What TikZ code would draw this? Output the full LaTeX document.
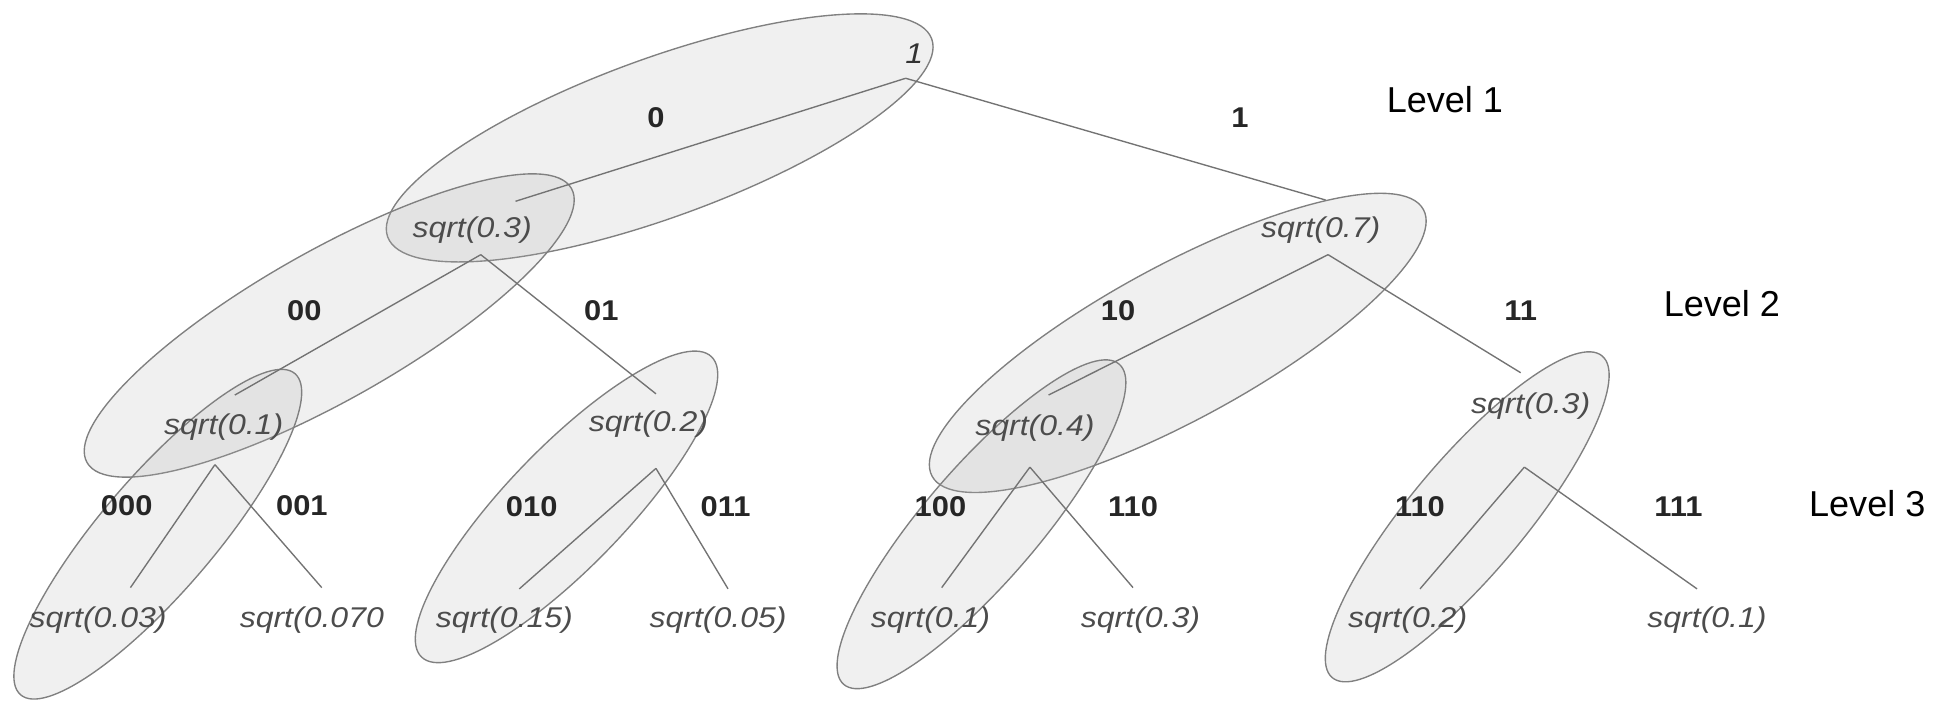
\documentclass[tikz,border=0pt]{standalone}
\usepackage{fontspec}
\setmainfont{Liberation Sans}
\newfontfamily\valfont[FakeStretch=1.12]{Liberation Sans}
\newfontfamily\bitfont[FakeStretch=1.08]{Liberation Sans}
\definecolor{edgegray}{gray}{0.45}
\definecolor{rimgray}{gray}{0.50}
\definecolor{valgray}{gray}{0.30}
\definecolor{blobgray}{gray}{0.70}

\tikzset{
  blob/.style={draw=rimgray, line width=1.1pt, fill=blobgray, fill opacity=0.2},
  link/.style={draw=edgegray, line width=1.1pt},
  val/.style={inner sep=0pt, text=valgray, font=\valfont\itshape\fontsize{23}{27}\selectfont},
  bits/.style={inner sep=0pt, text=black!85, font=\bitfont\bfseries\fontsize{23}{27}\selectfont},
  levlabel/.style={inner sep=0pt, text=black, font=\fontsize{29}{33}\selectfont}
}

% one tilted ellipse: centre x, centre y, half axes, tilt (degrees, counter-clockwise)
\newcommand{\blobat}[5]{%
  \draw[blob, rotate around={#5:(#1,#2)}] (#1,#2) ellipse [x radius=#3, y radius=#4];}

\begin{document}
\begin{tikzpicture}[x=1pt, y=-1pt]
\useasboundingbox (0,0) rectangle (1568,564);

% grouping ellipses
\blobat{531}{111}{233}{64}{20}
\blobat{265}{262}{224}{60}{29.5}
\blobat{127}{430}{170}{46}{49.5}
\blobat{456}{408}{168}{48}{46}
\blobat{948}{276}{225}{62}{28.5}
\blobat{790}{422}{170}{46}{49.3}
\blobat{1181}{416}{169}{46}{50}

% amplitudes
\node[val, text=black!80] (r) at (736,43) {1};
\node[val] (n0)   at (380,185) {sqrt(0.3)};
\node[val] (n1)   at (1063,185) {sqrt(0.7)};
\node[val] (n00)  at (180,344) {sqrt(0.1)};
\node[val] (n01)  at (522,341) {sqrt(0.2)};
\node[val] (n10)  at (833,345) {sqrt(0.4)};
\node[val] (n11)  at (1232,327) {sqrt(0.3)};
\node[val] (n000) at (79,499)  {sqrt(0.03)};
\node[val] (n001) at (251,499) {sqrt(0.070};
\node[val] (n010) at (406,499) {sqrt(0.15)};
\node[val] (n011) at (578,499) {sqrt(0.05)};
\node[val] (n100) at (749,499) {sqrt(0.1)};
\node[val] (n101) at (918,499) {sqrt(0.3)};
\node[val] (n110) at (1133,499) {sqrt(0.2)};
\node[val] (n111) at (1374,499) {sqrt(0.1)};

% branches
\draw[link] ([shift={(-7,20)}]r.center) -- ([shift={(35,-23)}]n0.center);
\draw[link] ([shift={(-7,20)}]r.center) -- ([shift={(4,-24)}]n1.center);
\draw[link] ([shift={(7,20)}]n0.center) -- ([shift={(9,-26)}]n00.center);
\draw[link] ([shift={(7,20)}]n0.center) -- ([shift={(6,-24)}]n01.center);
\draw[link] ([shift={(6,20)}]n1.center) -- ([shift={(11,-27)}]n10.center);
\draw[link] ([shift={(6,20)}]n1.center) -- ([shift={(-8,-27)}]n11.center);
\draw[link] ([shift={(-7,30)}]n00.center) -- ([shift={(26,-26)}]n000.center);
\draw[link] ([shift={(-7,30)}]n00.center) -- ([shift={(8,-26)}]n001.center);
\draw[link] ([shift={(6,36)}]n01.center) -- ([shift={(12,-25)}]n010.center);
\draw[link] ([shift={(6,36)}]n01.center) -- ([shift={(8,-25)}]n011.center);
\draw[link] ([shift={(-4,31)}]n10.center) -- ([shift={(9,-26)}]n100.center);
\draw[link] ([shift={(-4,31)}]n10.center) -- ([shift={(-6,-26)}]n101.center);
\draw[link] ([shift={(-5,49)}]n11.center) -- ([shift={(10,-25)}]n110.center);
\draw[link] ([shift={(-5,49)}]n11.center) -- ([shift={(-8,-25)}]n111.center);

% branch bit strings
\node[bits] (b0)   at (528,95)  {0};
\node[bits] (b1)   at (998,95)  {1};
\node[bits] (b00)  at (245,250) {00};
\node[bits] (b01)  at (484,250) {01};
\node[bits] (b10)  at (900,250) {10};
\node[bits] (b11)  at (1224,250) {11};
\node[bits] (b000) at (102,407) {000};
\node[bits] (b001) at (243,407) {001};
\node[bits] (b010) at (428,408) {010};
\node[bits] (b011) at (584,408) {011};
\node[bits] (b100) at (757,408) {100};
\node[bits] (b101) at (912,408) {110};
\node[bits] (b110) at (1143,408) {110};
\node[bits] (b111) at (1351,408) {111};

% level captions
\node[levlabel] (lv1) at (1163,80)  {Level 1};
\node[levlabel] (lv2) at (1386,244) {Level 2};
\node[levlabel] (lv3) at (1503,405) {Level 3};
\end{tikzpicture}
\end{document}
